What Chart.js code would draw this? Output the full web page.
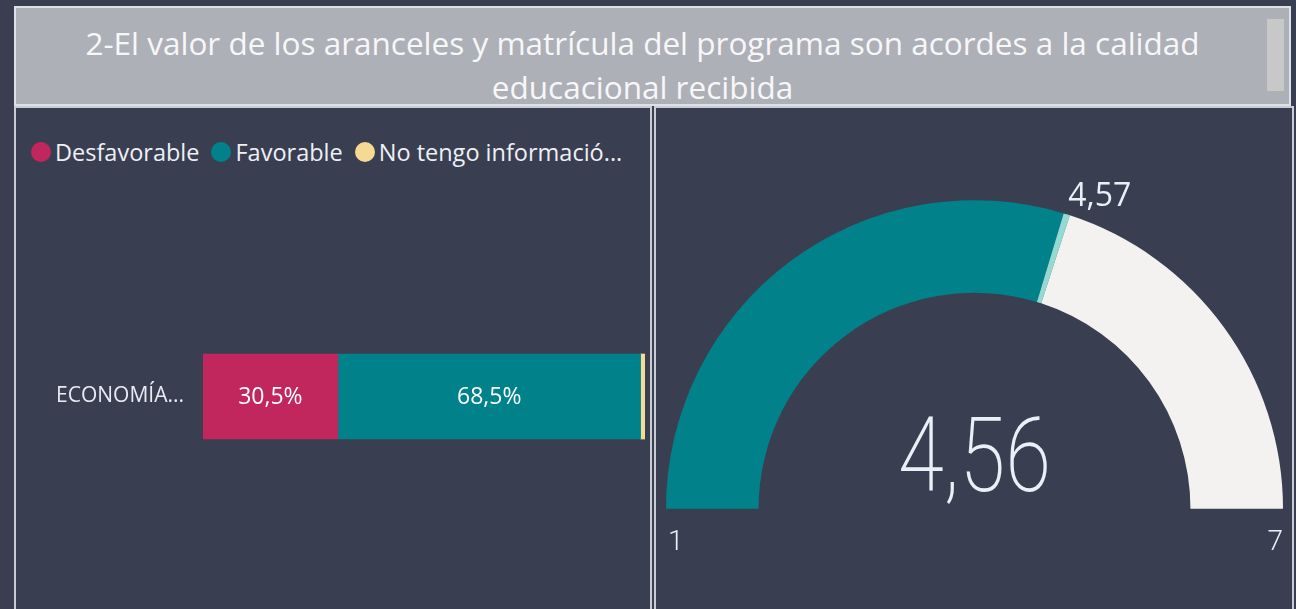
<!DOCTYPE html>
<html lang="es">
<head>
<meta charset="utf-8">
<script src="https://cdn.jsdelivr.net/npm/chart.js@4.4.1/dist/chart.umd.min.js"></script>
<style>
  html, body { margin: 0; padding: 0; }
  body {
    width: 1296px; height: 609px; overflow: hidden; position: relative;
    background: #393f51; font-family: "Open Sans", "Noto Sans", sans-serif;
  }
  .titulo {
    position: absolute; left: 14px; top: 6px; width: 1273px; height: 96px;
    background: #aeb0b7; border: 2px solid #dde1e8;
    color: #f7f7f8; font-size: 31.5px; line-height: 44px; text-align: center;
    box-sizing: content-box;
  }
  .titulo p { margin: 0; padding: 13px 70px 0 50px; }
  .scroll {
    position: absolute; right: 5px; top: 11px; width: 17px; height: 72px; background: #c8c8c8;
  }
  .panel {
    position: absolute; top: 106px; height: 520px; border: 2px solid #c9ccd3; box-sizing: border-box;
  }
  #panel-barra { left: 14px; width: 638px; }
  #panel-gauge { left: 654px; width: 640px; }
  canvas { position: absolute; }
  .leyenda {
    position: absolute; left: 31px; top: 136px; display: flex; align-items: center;
    color: #eef0f5; font-size: 23.5px; white-space: nowrap;
  }
  .leyenda span.item { display: flex; align-items: center; margin-right: 12px; }
  .leyenda i { display: inline-block; width: 20px; height: 20px; border-radius: 50%; margin-right: 4px; }
</style>
</head>
<body>
<div class="titulo">
  <p>2-El valor de los aranceles y matrícula del programa son acordes a la calidad educacional recibida</p>
  <div class="scroll"></div>
</div>
<div class="panel" id="panel-barra"></div>
<div class="panel" id="panel-gauge"></div>
<div class="leyenda" id="leyenda"></div>
<canvas id="grafico-barra" width="634" height="500" style="left:17px;top:109px;width:634px;height:500px"></canvas>
<canvas id="grafico-gauge" width="638" height="502" style="left:654px;top:107px;width:638px;height:502px"></canvas>
<script>
"use strict";
//Datos barra
const categorias = ["ECONOMÍA..."];
const series = ["Desfavorable", "Favorable", "No tengo informació..."];
const valoresDesfavorable = [30.5];
const valoresFavorable = [68.5];
const valoresNoTengo = [1.0];
const coresBarra = ["#c1275c", "#01828b", "#f6d992"];

//Datos gauge
const gaugeMin = 1;
const gaugeMax = 7;
const gaugeValor = 4.56;
const gaugeMeta = 4.57;
const coresGauge = ["#01828b", "#92dad2", "#f3f2f0"];

const formatear = (v, dec) => v.toFixed(dec).replace(".", ",");

//Leyenda
const leyenda = document.getElementById("leyenda");
series.forEach((nombre, i) => {
  const item = document.createElement("span");
  item.className = "item";
  item.innerHTML = `<i style="background:${coresBarra[i]}"></i>${nombre}`;
  leyenda.appendChild(item);
});

//Etiquetas dentro de las barras
const etiquetasBarra = {
  id: "etiquetasBarra",
  afterDatasetsDraw(chart) {
    const ctx = chart.ctx;
    ctx.save();
    ctx.font = '23px "Open Sans", sans-serif';
    ctx.fillStyle = "#ffffff";
    ctx.textAlign = "center";
    ctx.textBaseline = "middle";
    chart.data.datasets.forEach((ds, i) => {
      chart.getDatasetMeta(i).data.forEach((bar, j) => {
        const v = ds.data[j];
        if (v < 5) return;
        const x = (bar.x + bar.base) / 2;
        ctx.fillText(formatear(v, 1) + "%", x, bar.y + 1);
      });
    });
    ctx.restore();
  }
};

let chartBarra = new Chart(document.getElementById("grafico-barra"), {
  type: "bar",
  data: {
    labels: categorias,
    datasets: [
      { label: series[0], data: valoresDesfavorable, backgroundColor: coresBarra[0] },
      { label: series[1], data: valoresFavorable, backgroundColor: coresBarra[1] },
      { label: series[2], data: valoresNoTengo, backgroundColor: coresBarra[2] },
    ],
  },
  options: {
    indexAxis: "y",
    responsive: false,
    animation: false,
    barThickness: 85,
    layout: { padding: { top: 180, bottom: 105, right: 6, left: 0 } },
    plugins: { legend: { display: false }, tooltip: { enabled: false } },
    scales: {
      x: { stacked: true, min: 0, max: 100, display: false },
      y: {
        stacked: true,
        grid: { display: false },
        border: { display: false },
        afterFit: (scale) => { scale.width = 186; },
        ticks: { color: "#e8ebf2", padding: 11, font: { size: 21, family: '"Open Sans", sans-serif' } },
      },
    },
  },
  plugins: [etiquetasBarra],
});

//Textos del gauge
const textosGauge = {
  id: "textosGauge",
  afterDraw(chart) {
    const arc = chart.getDatasetMeta(0).data[0];
    const cx = arc.x, cy = arc.y, r = arc.outerRadius;
    const ctx = chart.ctx;
    ctx.save();
    ctx.fillStyle = "#eaf0f8";
    //valor central
    ctx.font = '200 104px Roboto, sans-serif';
    ctx.textAlign = "center";
    ctx.textBaseline = "alphabetic";
    ctx.translate(cx, cy - 18);
    ctx.scale(0.8, 1);
    ctx.fillText(formatear(gaugeValor, 2), 0, 0);
    ctx.setTransform(1, 0, 0, 1, 0, 0);
    //min y max
    ctx.font = '300 28px Roboto, sans-serif';
    ctx.textAlign = "left";
    ctx.fillText(String(gaugeMin), cx - r + 2, cy + 41);
    ctx.textAlign = "right";
    ctx.fillText(String(gaugeMax), cx + r, cy + 41);
    //meta
    const f = (gaugeMeta - gaugeMin) / (gaugeMax - gaugeMin);
    const mx = cx - r * Math.cos(Math.PI * f);
    const my = cy - r * Math.sin(Math.PI * f);
    ctx.font = '32px "Open Sans", sans-serif';
    ctx.textAlign = "left";
    ctx.fillText(formatear(gaugeMeta, 2), mx + 3, my - 8);
    ctx.restore();
  }
};

const anchoMeta = 0.04;
let chartGauge = new Chart(document.getElementById("grafico-gauge"), {
  type: "doughnut",
  data: {
    labels: ["Valor", "Meta", "Resto"],
    datasets: [{
      data: [gaugeValor - gaugeMin, anchoMeta, gaugeMax - gaugeValor - anchoMeta],
      backgroundColor: coresGauge,
      borderWidth: 0,
    }],
  },
  options: {
    responsive: false,
    animation: false,
    rotation: -90,
    circumference: 180,
    cutout: "70%",
    layout: { padding: { left: 12, right: 9, top: 93, bottom: 100 } },
    plugins: { legend: { display: false }, tooltip: { enabled: false } },
  },
  plugins: [textosGauge],
});
</script>
</body>
</html>
